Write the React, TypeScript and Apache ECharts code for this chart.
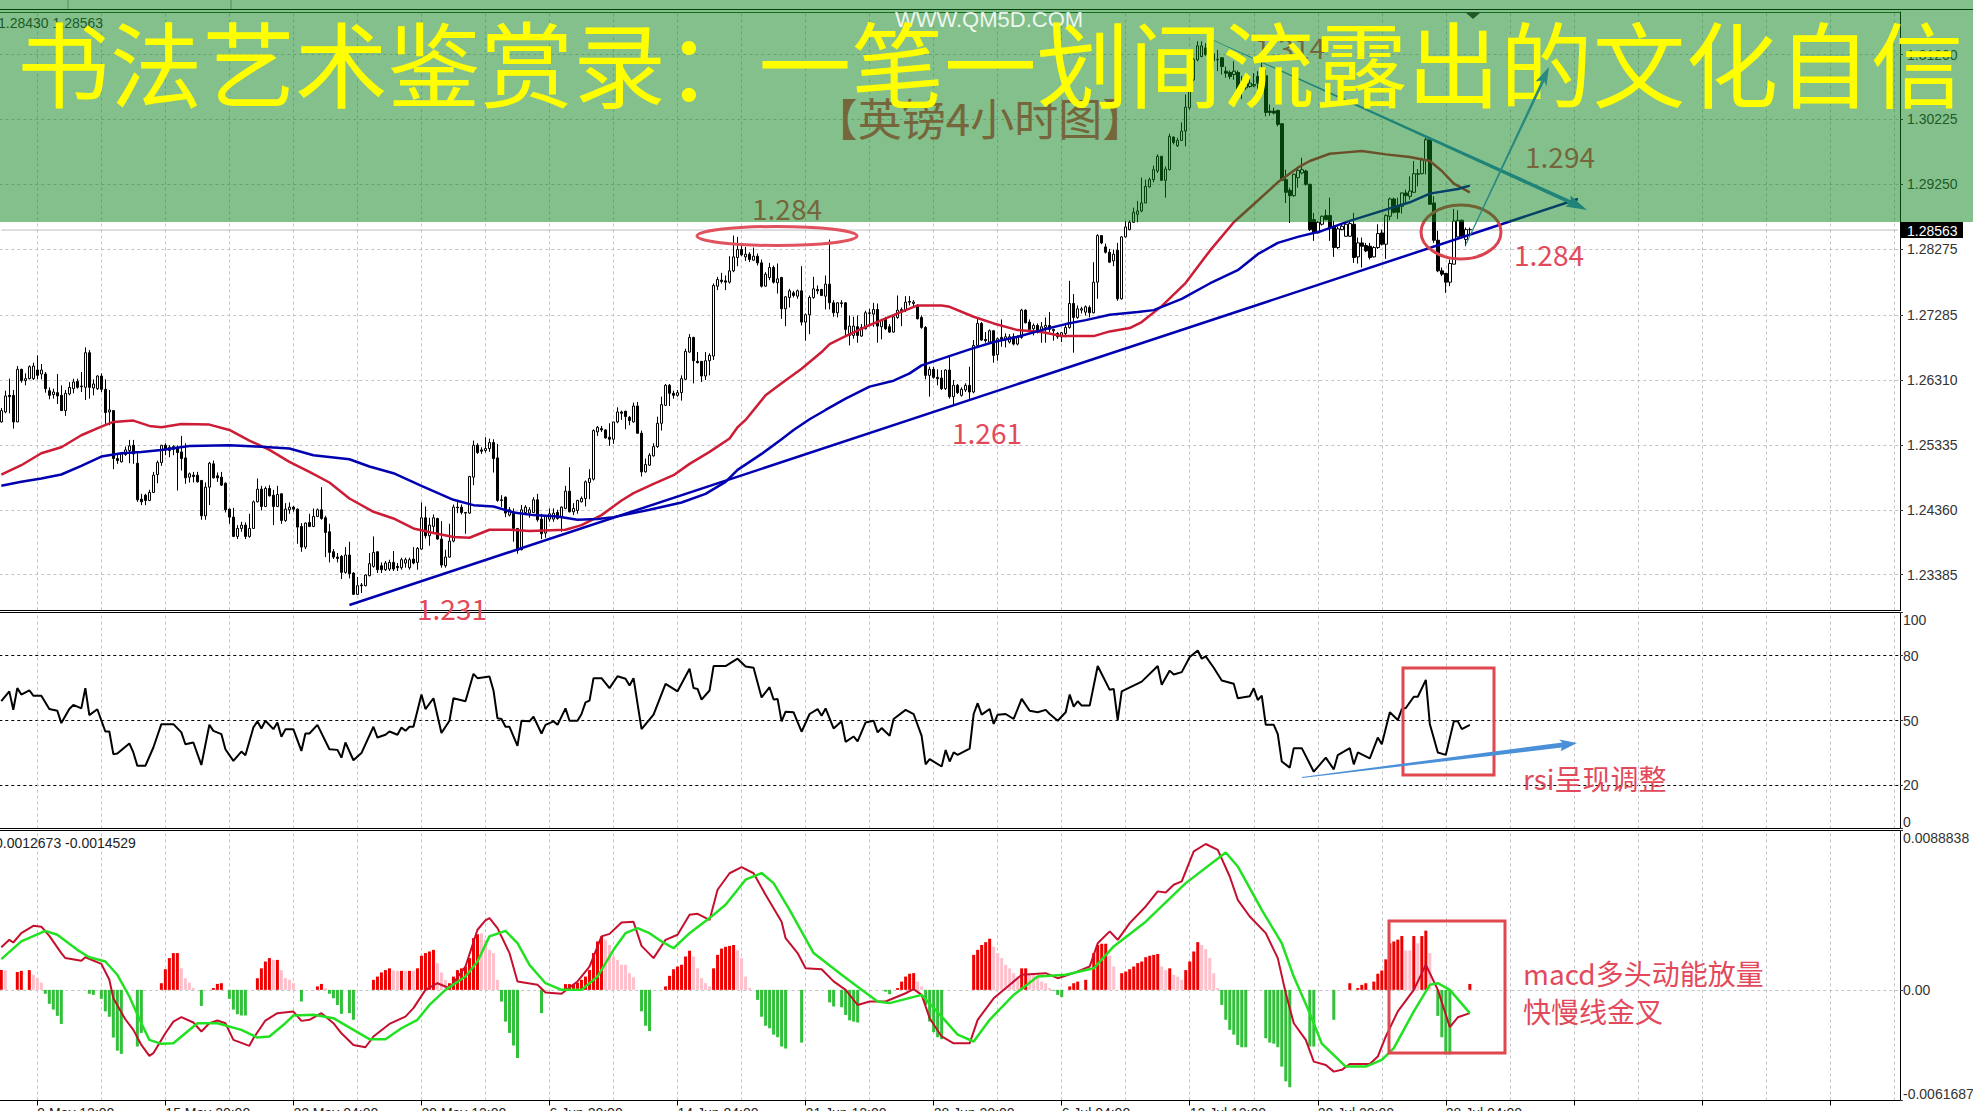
import React, { useEffect, useRef } from "react";
import * as echarts from "echarts";

// Candles in pips (price x 10000): open, close, low, high. One row per 4-hour bar.
const candlesMay = [
[12568,12585,12567,12589],[12583,12607,12581,12615],[12608,12606,12581,12633],[12608,12568,12558,12616],[12568,12647,12568,12652],[12647,12630,12627,12648],[12630,12633,12623,12641],[12633,12651,12632,12653],[12633,12652,12631,12657],[12646,12638,12632,12668],
[12640,12646,12632,12655],[12640,12618,12612,12643],[12615,12608,12602,12620],[12609,12613,12603,12618],[12612,12607,12595,12640],[12608,12585,12585,12623],[12585,12611,12577,12616],[12610,12620,12608,12628],[12618,12628,12611,12633],[12629,12620,12618,12633],
[12622,12621,12613,12643],[12620,12672,12601,12680],[12672,12620,12603,12676],[12619,12625,12608,12632],[12618,12637,12616,12638],[12637,12617,12613,12641],[12617,12582,12565,12632],[12583,12586,12563,12616],[12585,12513,12497,12585],[12513,12510,12505,12521],
[12508,12520,12507,12523],[12519,12526,12517,12531],[12525,12532,12506,12541],[12533,12520,12505,12541],[12506,12451,12448,12521],[12452,12448,12443,12460],[12458,12450,12443,12460],[12450,12462,12449,12466],[12462,12488,12462,12493],[12489,12507,12476,12510],
[12507,12533,12502,12533],[12533,12526,12518,12536],[12525,12530,12515,12533],[12527,12531,12518,12533],[12530,12522,12465,12533],[12523,12513,12495,12547],[12514,12484,12475,12536],[12485,12490,12477,12492],[12488,12486,12477,12493],[12488,12478,12477,12493],
[12480,12427,12421,12481],[12427,12470,12421,12477],[12470,12506,12443,12508],[12505,12484,12483,12510],[12487,12484,12478,12492],[12485,12473,12472,12493],[12476,12436,12432,12477],[12437,12425,12415,12438],[12425,12396,12395,12439],[12396,12408,12392,12413],
[12408,12413,12403,12418],[12413,12396,12392,12417],[12396,12408,12394,12430],[12408,12448,12408,12450],[12448,12467,12447,12483],[12467,12441,12435,12472],[12441,12468,12440,12471],[12468,12457,12456,12473],[12458,12441,12413,12466],[12441,12459,12440,12472],
[12460,12420,12415,12461],[12420,12437,12418,12446],[12436,12440,12430,12447],[12440,12437,12433,12442],[12437,12410,12385,12438],[12411,12380,12373,12416],[12380,12416,12377,12417],[12417,12411,12410,12430],[12411,12426,12410,12438],[12426,12436,12425,12438],
[12436,12423,12421,12470],[12424,12402,12365,12427],[12403,12372,12357,12415],[12373,12365,12362,12377],[12365,12363,12357,12371],[12366,12342,12332,12368],[12342,12368,12340,12380],[12368,12340,12333,12388],[12341,12309,12308,12342],[12309,12322,12308,12335],
[12323,12322,12311,12326],[12322,12338,12321,12339],[12337,12355,12336,12371],
];
const candlesJun = [
[12351,12372,12349,12396],[12373,12346,12341,12373],[12352,12346,12341,12357],[12346,12356,12344,12359],[12347,12357,12344,12361],[12357,12347,12344,12374],[12351,12349,12344,12356],[12349,12361,12346,12364],[12356,12361,12349,12364],[12349,12361,12346,12364],
[12362,12356,12354,12380],[12357,12378,12346,12380],[12377,12424,12376,12447],[12424,12397,12393,12441],[12397,12413,12382,12424],[12411,12424,12401,12429],[12423,12392,12391,12424],[12392,12353,12349,12419],[12352,12365,12349,12376],[12365,12389,12364,12415],
[12389,12440,12387,12444],[12440,12439,12431,12450],[12440,12432,12429,12444],[12432,12431,12400,12432],[12431,12486,12430,12487],[12485,12533,12473,12540],[12533,12522,12520,12536],[12526,12524,12520,12530],[12525,12528,12522,12545],[12528,12537,12523,12543],
[12537,12513,12492,12542],[12514,12450,12448,12535],[12451,12450,12440,12458],[12455,12431,12425,12456],[12428,12436,12426,12440],[12433,12408,12388,12438],[12408,12375,12370,12408],[12376,12436,12375,12443],[12432,12440,12428,12443],[12431,12436,12424,12440],
[12432,12451,12431,12455],[12451,12421,12418,12460],[12422,12400,12392,12430],[12401,12427,12394,12428],[12422,12430,12418,12438],[12422,12431,12418,12438],[12432,12423,12421,12436],[12426,12440,12403,12441],[12438,12464,12437,12472],[12464,12433,12432,12500],
[12433,12438,12428,12446],[12435,12450,12430,12451],[12448,12453,12447,12456],[12453,12478,12441,12480],[12477,12483,12452,12497],[12482,12555,12480,12557],[12553,12560,12547,12562],[12558,12556,12553,12562],[12556,12544,12543,12557],[12545,12542,12532,12566],
[12542,12568,12535,12568],[12568,12583,12566,12590],[12583,12581,12571,12585],[12584,12576,12557,12585],[12575,12570,12563,12577],[12568,12592,12567,12597],[12592,12551,12550,12598],[12551,12493,12486,12555],[12493,12504,12492,12513],[12503,12518,12502,12521],
[12517,12531,12516,12536],[12531,12566,12529,12576],[12566,12594,12555,12606],[12593,12623,12592,12625],[12623,12611,12592,12625],[12611,12608,12603,12615],[12608,12612,12606,12616],[12612,12633,12600,12638],[12632,12674,12631,12678],[12673,12695,12672,12700],
[12695,12660,12626,12696],[12659,12657,12656,12673],[12659,12637,12628,12659],[12637,12660,12631,12673],[12660,12668,12638,12671],[12667,12773,12661,12776],[12772,12782,12766,12786],[12781,12779,12776,12792],[12780,12778,12766,12788],[12778,12795,12776,12817],
[12795,12816,12793,12848],[12815,12827,12802,12846],
];
const candlesJunJul = [
[12827,12819,12817,12836],[12816,12820,12810,12831],[12820,12812,12808,12823],[12811,12817,12810,12830],[12817,12807,12803,12821],[12807,12772,12770,12812],[12772,12790,12771,12793],[12785,12800,12781,12807],[12800,12778,12776,12803],[12777,12783,12761,12806],
[12785,12738,12723,12786],[12738,12756,12712,12757],[12755,12765,12740,12768],[12762,12758,12755,12765],[12757,12765,12753,12767],[12765,12718,12713,12802],[12718,12729,12690,12731],[12729,12755,12700,12758],[12755,12768,12753,12786],[12767,12765,12760,12773],
[12767,12758,12757,12768],[12757,12775,12737,12788],[12775,12747,12737,12842],[12747,12732,12726,12751],[12732,12747,12725,12748],[12747,12746,12740,12751],[12747,12707,12698,12748],[12698,12712,12683,12728],[12698,12712,12693,12726],[12711,12698,12687,12728],
[12697,12710,12696,12715],[12708,12732,12707,12735],[12731,12732,12712,12738],[12730,12737,12711,12747],[12737,12712,12687,12746],[12711,12721,12692,12723],[12722,12708,12706,12726],[12711,12703,12702,12715],[12703,12726,12702,12728],[12725,12736,12723,12758],
[12735,12737,12712,12740],[12736,12748,12733,12757],[12749,12748,12743,12757],[12746,12748,12740,12751],[12743,12723,12722,12745],[12725,12710,12708,12728],[12710,12638,12632,12712],[12638,12647,12606,12651],[12647,12635,12633,12651],[12635,12633,12623,12647],
[12634,12618,12616,12646],[12618,12646,12616,12647],[12646,12606,12603,12666],[12606,12623,12592,12631],[12623,12612,12610,12625],[12608,12617,12606,12620],[12616,12623,12613,12626],[12623,12613,12601,12651],[12613,12683,12611,12691],[12683,12716,12682,12723],
[12716,12691,12690,12718],[12692,12690,12687,12703],[12688,12705,12687,12707],[12705,12668,12657,12706],[12669,12693,12660,12695],[12695,12692,12681,12722],[12692,12696,12680,12701],[12688,12696,12686,12700],[12696,12685,12683,12701],[12685,12696,12683,12698],
[12695,12736,12693,12738],[12736,12717,12716,12737],[12718,12707,12706,12722],[12708,12713,12698,12716],[12713,12703,12701,12716],[12705,12711,12687,12718],[12710,12713,12687,12725],[12713,12707,12703,12733],[12705,12707,12690,12708],[12701,12696,12693,12703],
[12696,12702,12688,12703],[12701,12710,12695,12716],[12710,12746,12708,12780],[12746,12725,12672,12760],[12725,12738,12723,12743],[12736,12738,12731,12741],[12733,12741,12728,12743],[12740,12732,12725,12743],[12732,12778,12731,12808],[12778,12848,12753,12850],
[12848,12837,12835,12848],[12831,12823,12821,12836],[12823,12808,12807,12828],
];
const candlesJul = [
[12810,12820,12802,12827],[12826,12753,12750,12837],[12753,12846,12752,12847],[12846,12861,12845,12870],[12857,12868,12856,12871],[12868,12883,12867,12890],[12880,12885,12868,12900],[12885,12897,12883,12935],[12897,12922,12897,12932],[12921,12932,12920,12935],
[12932,12947,12928,12953],[12945,12967,12942,12970],[12967,12931,12930,12968],[12931,12948,12905,12952],[12947,12997,12946,13001],[12996,12988,12985,12997],[12983,12991,12981,12995],[12991,13005,12990,13018],[13005,13041,12982,13060],[13040,13082,13037,13083],
[13082,13113,13080,13115],[13112,13133,13110,13140],[13117,13133,13116,13140],[13130,13120,13118,13137],[13120,13117,13112,13122],[13121,13111,13097,13143],[13112,13113,13095,13127],[13115,13102,13090,13116],[13095,13092,13085,13102],[13093,13087,13083,13096],
[13090,13095,13082,13110],[13093,13068,13052,13096],[13067,13075,13053,13088],[13070,13076,13067,13087],[13072,13077,13070,13085],[13073,13075,13071,13092],[13087,13077,13067,13095],[13078,13088,13077,13110],[13088,13033,13027,13097],[13035,13033,13028,13045],
[13035,13032,13030,13040],[13036,13015,13012,13037],[13016,12931,12930,13017],[12932,12913,12897,12947],[12916,12908,12867,12920],[12908,12940,12906,12941],[12935,12946,12920,12950],[12942,12947,12940,12965],[12945,12925,12923,12947],[12925,12857,12855,12926],
[12872,12852,12840,12882],[12852,12868,12851,12870],[12865,12877,12863,12878],[12878,12872,12871,12887],[12878,12860,12840,12905],[12861,12830,12816,12870],[12830,12858,12828,12862],[12857,12862,12856,12867],[12847,12865,12846,12870],[12847,12866,12846,12870],
[12865,12815,12807,12882],[12816,12837,12806,12845],[12837,12832,12800,12845],[12833,12825,12823,12837],[12832,12815,12812,12837],[12816,12830,12815,12832],[12830,12851,12828,12865],[12852,12835,12833,12857],[12835,12878,12813,12880],[12877,12903,12871,12905],
[12903,12883,12881,12905],[12892,12883,12873,12905],[12892,12912,12881,12913],[12912,12908,12897,12917],[12907,12915,12902,12937],[12913,12941,12912,12960],[12940,12941,12922,12948],[12941,12962,12940,12965],[12961,12992,12940,12995],[12992,12895,12895,12992],
[12897,12841,12837,12907],[12841,12795,12793,12855],[12795,12790,12787,12800],[12791,12778,12762,12792],[12778,12806,12772,12812],[12805,12870,12805,12888],[12846,12871,12845,12886],[12871,12847,12846,12872],[12842,12857,12832,12860],[12857,12857,12847,12860],
];

// Moving averages in pips, [bar, value]
const redMA = [[0,12489],[5,12503],[10,12521],[15,12530],[20,12548],[25,12561],[28,12568],[33,12570],[37,12562],[40,12560],[45,12565],[52,12564],[57,12556],[62,12540],[67,12526],[72,12508],[77,12493],[82,12477],[87,12453],[93,12433],[98,12423],[103,12408],[108,12401],[113,12395],[117,12394],[122,12406],[127,12406],[132,12404],[141,12406],[145,12413],[150,12428],[155,12450],[158,12461],[163,12475],[168,12488],[172,12505],[177,12523],[182,12543],[184,12560],[186,12571],[191,12608],[195,12626],[200,12648],[205,12673],[207,12685],[211,12697],[216,12711],[220,12721],[224,12731],[229,12743],[235,12743],[237,12741],[243,12726],[248,12716],[254,12706],[260,12703],[265,12697],[273,12697],[277,12704],[282,12709],[285,12718],[290,12742],[296,12777],[302,12825],[308,12868],[313,12895],[319,12928],[324,12950],[327,12960],[332,12971],[336,12973],[340,12975],[346,12970],[352,12966],[357,12960],[360,12945],[363,12926],[367,12913]];
const blueMA = [[0,12472],[5,12478],[10,12483],[15,12489],[20,12502],[25,12516],[30,12521],[35,12523],[40,12526],[47,12532],[57,12533],[64,12531],[72,12528],[78,12518],[87,12512],[92,12501],[98,12491],[105,12472],[113,12451],[118,12443],[123,12441],[128,12432],[133,12428],[139,12426],[144,12421],[149,12422],[153,12425],[162,12436],[170,12447],[176,12460],[181,12478],[184,12496],[190,12520],[195,12542],[198,12556],[202,12572],[206,12586],[211,12603],[217,12621],[223,12630],[227,12641],[230,12653],[236,12665],[242,12677],[248,12688],[254,12696],[260,12706],[266,12715],[271,12721],[277,12729],[284,12733],[288,12736],[295,12753],[302,12776],[309,12796],[314,12820],[319,12837],[324,12846],[330,12855],[337,12870],[346,12887],[352,12898],[357,12911],[364,12918],[367,12923]];
const supportLine = [[87,12293],[394,12903]];

// RSI, [bar, value]
const rsiValues = [[0,59],[2,63.5],[3,55],[4,65],[5,62],[7,64],[8,61.5],[10,61.5],[12,55.3],[14,54.5],[15,48.8],[17,55.3],[18,57.2],[20,55.6],[21,65],[22,52.5],[24,55.2],[26,44.9],[27,44.9],[28,34.4],[29,34.7],[32,39.4],[33,35.2],[34,29],[36,29],[38,37.5],[40,48.3],[43,48.3],[45,44.5],[46,39],[48,39.8],[50,29.4],[52,48],[53,45.2],[55,43.7],[56,36.7],[58,31.3],[60,35.6],[61,33.9],[63,46.8],[64,49.6],[65,46.3],[66,49.9],[68,46],[69,49.1],[70,42.5],[71,45.9],[73,45.9],[75,35.9],[76,44],[77,44],[79,48],[82,36.7],[84,36.4],[85,32.8],[86,39.8],[88,31.6],[90,34.9],[93,47.1],[94,42.1],[96,43.4],[97,44.9],[99,43.4],[100,46.8],[101,45.2],[102,47.1],[103,47.1],[105,62],[106,55.3],[108,60.3],[110,44.2],[112,49.9],[113,60.3],[116,58.9],[118,71.6],[119,69.6],[122,70.4],[123,63.9],[124,51],[125,50.7],[126,47.1],[127,47.1],[129,38.3],[130,49.9],[132,49.6],[133,51.8],[135,44],[136,48],[138,49.6],[139,48],[141,55.6],[142,49.9],[144,49.9],[145,53],[146,58.4],[147,59.2],[148,69.6],[150,69.6],[152,65],[154,70.5],[156,69.3],[157,66.2],[158,69.6],[160,46],[163,52.7],[166,67],[169,63.5],[172,74],[173,65],[174,64.6],[175,59.7],[177,63.9],[178,75.2],[181,75.2],[184,78.6],[186,75],[188,74.4],[190,60.7],[192,65.4],[193,59.7],[194,60],[195,49.6],[196,54.1],[198,53.8],[200,44.8],[202,53],[204,55.3],[205,52.2],[206,55.6],[208,46.3],[210,49.6],[211,40.1],[213,42.6],[214,40.3],[216,49.1],[218,49.9],[219,44.5],[220,46.5],[222,42.9],[223,50.7],[226,54.9],[228,53],[230,42.9],[231,29.7],[232,32.1],[235,28.7],[236,36.3],[237,31],[238,35.2],[239,34.1],[242,37],[243,53],[244,58],[245,52.7],[247,55.3],[248,48.4],[249,52.7],[251,53],[253,50.7],[255,60],[257,54.5],[259,53.8],[261,54.9],[262,53],[264,49.9],[266,53.8],[267,62],[268,56.4],[269,58.9],[270,56.9],[272,56.9],[274,75.2],[277,64.2],[278,64.6],[279,50.2],[280,63.5],[285,68],[289,75.2],[290,66.5],[292,73.1],[293,71.3],[295,72.4],[297,79.4],[299,82.4],[300,78.6],[301,79.7],[303,74.4],[305,68.5],[308,67],[309,60.3],[312,61.2],[313,64.9],[314,59.5],[315,61.5],[316,48],[318,48],[319,43.7],[320,31],[322,28.2],[323,37.2],[325,37.2],[328,26.3],[331,32.8],[333,27.4],[334,34],[337,37.2],[338,29.7],[339,35.2],[342,32.5],[344,42.1],[345,39],[347,53.8],[349,50.2],[350,55.3],[351,55.8],[353,61],[354,61],[356,68.8],[357,48.4],[359,35.2],[361,34.1],[363,49.6],[364,49.6],[365,46],[367,48]];

// MACD histogram and lines, in units of 0.0001, [bar, value]
const histRising = [[0,11],[4,10],[5,10.6],[7,11],[40,3.7],[41,11.5],[42,17.7],[43,20.5],[44,20.5],[53,1],[54,3.3],[55,3.7],[64,6.5],[65,12],[66,15.8],[67,17.7],[69,16.7],[79,1.9],[80,3.3],[93,5.6],[94,7.4],[95,9.7],[96,11],[97,12],[100,10.6],[102,10.6],[104,12],[105,19],[106,20.5],[107,21.4],[108,22.3],[112,3.7],[113,7.4],[114,11],[115,12],[116,13],[117,17.7],[118,28.8],[119,31],[141,3.2],[142,3.2],[143,3.3],[144,4],[145,5.6],[146,7.4],[147,11],[148,20.5],[149,27],[150,29.8],[166,1.9],[167,7.8],[168,11.5],[169,13],[170,14],[171,18.6],[172,21.8],[178,12],[179,19.5],[180,23],[181,24],[182,24.5],[183,25],[224,1],[225,4.6],[226,7.4],[227,9],[228,9.3],[243,19.5],[244,22.3],[245,25],[246,26.6],[247,28.5],[255,12],[256,12],[267,1.9],[268,3.7],[269,4.6],[271,5.6],[273,20.5],[274,25],[275,25.7],[276,25.7],[280,9.3],[281,10.2],[282,11.5],[283,13],[284,14.9],[285,15.8],[286,18.2],[287,19],[288,19.5],[289,20],[292,12],[296,11],[297,15.8],[298,21.4],[299,26.6],[337,3.7],[339,1],[340,2.8],[341,3.7],[343,4.6],[344,9],[345,10.8],[346,17],[347,26],[348,27],[349,28],[350,30],[353,30],[355,30],[356,33],[367,3.3]];
const histFalling = [[1,10.8],[8,8.4],[9,6.5],[10,4],[45,12],[46,6.5],[47,4],[48,1],[68,16.7],[70,11],[71,6.5],[72,5.6],[73,3.7],[81,0.9],[98,10.8],[99,10.6],[101,10.6],[103,10.6],[109,14.9],[110,9.7],[111,5.6],[120,31.6],[121,27.9],[122,22.3],[123,20.5],[124,5.6],[151,27.9],[152,25],[153,18.6],[154,16.7],[155,14],[156,14],[157,9.3],[158,7],[173,18.6],[174,12],[175,6.5],[176,3.7],[177,1.9],[184,22],[185,17.7],[186,7.4],[187,1],[229,4.6],[230,1.9],[248,24],[249,20.5],[250,17.7],[251,14],[252,12],[253,9.3],[254,7.4],[257,8.4],[258,9.3],[259,7.4],[260,4.6],[261,3.7],[262,1],[277,19],[278,13],[290,13],[291,11],[293,8.4],[294,7.4],[295,5.6],[300,25],[301,22.7],[302,17.7],[303,9.3],[304,1],[351,22],[352,22],[354,26],[357,20.5]];
const histNegative = [[11,-2.2],[12,-7.8],[13,-11],[14,-14.5],[15,-19],[22,-2.2],[23,-2.8],[25,-5],[26,-12],[27,-15],[28,-26.6],[29,-33.9],[30,-35.7],[34,-31.6],[35,-24],[50,-9],[57,-5],[58,-11],[59,-13.6],[60,-14.3],[61,-14.3],[75,-6.5],[82,-2.2],[83,-4.7],[84,-8.4],[85,-13.4],[87,-13],[88,-16.7],[125,-6.5],[126,-17.7],[127,-24],[128,-31],[129,-38],[135,-13],[160,-12],[161,-20],[162,-23],[189,-5.6],[190,-15],[191,-20],[192,-21.4],[193,-25],[194,-26.4],[195,-31.6],[196,-32.7],[200,-29.4],[207,-7],[208,-9.3],[210,-9.7],[211,-14],[212,-17],[213,-17.7],[214,-18.2],[221,-1],[222,-2.4],[231,-8.4],[232,-17.7],[233,-23.6],[234,-26.4],[235,-27.5],[263,-0.4],[264,-2.8],[265,-4],[305,-8.4],[306,-16.7],[307,-22.3],[308,-25],[309,-30.7],[310,-32],[311,-32],[316,-27],[317,-29.4],[318,-30],[319,-32],[320,-42.8],[321,-51],[322,-54.3],[327,-31.6],[328,-31.6],[333,-16.7],[359,-14.5],[360,-26.4],[361,-36],[362,-36]];
const macdLine = [[0,23.8],[2,27.9],[3,26.4],[5,31.6],[8,35.7],[10,35.2],[12,30.1],[15,20.5],[16,17.7],[20,16.2],[21,18.2],[25,14.5],[27,5.6],[28,-4.7],[31,-16.4],[33,-22.3],[35,-30.7],[37,-36.8],[38,-35.3],[41,-24.2],[43,-17.7],[45,-15.2],[48,-18.2],[50,-23.2],[52,-18.6],[54,-17.1],[56,-18.6],[58,-27.9],[62,-31.2],[63,-27],[66,-17.1],[69,-13],[73,-12.1],[75,-17.3],[77,-16.7],[80,-13],[83,-18.6],[85,-24.2],[88,-30.7],[91,-32],[93,-26],[97,-19],[101,-14.9],[103,-10.2],[106,0],[109,3.7],[112,0.9],[116,13],[119,33.5],[121,38.7],[122,40],[124,34.4],[127,20.5],[129,4.7],[134,2.8],[136,-1.5],[140,-2.2],[144,4.7],[147,13],[150,29.8],[152,31.2],[155,37.6],[158,37.9],[160,24.5],[163,17.7],[166,27.9],[169,30.7],[172,41.9],[174,42.4],[177,39],[179,55.8],[182,65],[185,68.4],[188,65],[191,53],[195,38],[196,28.8],[199,20.5],[201,12],[205,11.5],[208,4.7],[211,0],[214,-8.4],[217,-6.5],[221,-6.5],[226,-1.9],[228,0.4],[230,-2.8],[232,-15.8],[235,-26],[238,-29.8],[242,-29.8],[244,-16.7],[248,-4.7],[251,0.9],[255,8.4],[261,9.3],[264,6.5],[268,9.3],[272,13],[274,26],[277,32.6],[279,27.9],[282,37.2],[286,46.5],[289,54.9],[291,54.3],[293,58.6],[295,60.5],[298,77.2],[301,81.3],[304,78],[307,63.2],[309,50.2],[312,40.9],[316,31.6],[319,17.7],[321,-1.9],[323,-18.6],[326,-27.9],[328,-40],[331,-41.9],[333,-45.6],[335,-44.6],[337,-41.3],[342,-41.3],[344,-37.2],[346,-26],[349,-12],[353,0],[356,14],[359,0],[362,-20.8],[364,-15.3],[367,-13]];
const signalLine = [[0,17.1],[5,27],[11,32.9],[14,30.7],[19,22.3],[22,18.2],[26,15.8],[29,8.4],[32,-3.7],[35,-18.6],[37,-27.9],[40,-30.1],[43,-29.8],[46,-24.2],[49,-18.6],[54,-18.6],[60,-22.3],[64,-26.6],[67,-26],[71,-18.6],[73,-14.3],[78,-13.9],[83,-15.8],[88,-22.3],[92,-27.5],[96,-27.5],[100,-21.4],[104,-16.7],[107,-8.4],[111,0],[116,7.4],[119,15.8],[122,29.8],[126,32.9],[129,26],[132,13.9],[136,3.7],[140,0],[145,0],[149,7.4],[153,22.3],[156,31.6],[159,34.4],[162,31.6],[165,27],[168,23.2],[172,31.6],[177,40],[181,47.4],[186,61.4],[190,65.1],[193,59.5],[197,44.6],[203,20.5],[210,8.4],[215,0],[219,-6.5],[222,-7.4],[230,-2.8],[235,-14.9],[239,-25],[243,-28.8],[247,-16.7],[253,-2.8],[259,7.4],[266,8.4],[273,12],[278,24.2],[286,38],[296,59.5],[306,76.6],[309,68.8],[315,44.6],[320,26],[323,7.4],[327,-13],[330,-30],[336,-42.8],[341,-42.8],[345,-39],[348,-32.5],[353,-12],[357,2.8],[359,3.7],[362,0],[367,-13]];

// Axis texts and ticks
const priceTicks = [1.312, 1.30225, 1.2925, 1.28275, 1.27285, 1.2631, 1.25335, 1.2436, 1.23385];
const rsiTicks = [0, 20, 50, 80, 100];
const macdTicks = [-0.0061687, 0, 0.0088838];
const timeLabels = ["9 May 12:00", "15 May 20:00", "22 May 04:00", "29 May 12:00", "6 Jun 20:00", "14 Jun 04:00", "21 Jun 12:00", "28 Jun 20:00", "6 Jul 04:00", "13 Jul 12:00", "20 Jul 20:00", "28 Jul 04:00"];
const currentPrice = 1.28563;

const SLOTS = 475;
const FIRST_GRID_SLOT = 9;
const GRID_SLOT_STEP = 16;
const LABEL_SLOT_STEP = 32;

const AXIS_FONT = "'Liberation Sans', Arial, sans-serif";
const CJK_FONT = "'Noto Sans CJK SC', 'Noto Sans', sans-serif";

const allCandles = [...candlesMay, ...candlesJun, ...candlesJunJul, ...candlesJul];
const candleData = allCandles.map((r) => r.map((v) => v / 10000));
const tenK = (rows: number[][]) => rows.map(([i, v]) => [i, v / 10000]);

const categories = Array.from({ length: SLOTS }, (_, i) => {
  const k = (i - FIRST_GRID_SLOT) / LABEL_SLOT_STEP;
  return Number.isInteger(k) && timeLabels[k] ? timeLabels[k] : "";
});
const isLabelSlot = (i: number) => (i - FIRST_GRID_SLOT) % LABEL_SLOT_STEP === 0 && i >= FIRST_GRID_SLOT;
const gridSlots: number[] = [];
for (let i = FIRST_GRID_SLOT; i < SLOTS; i += GRID_SLOT_STEP) gridSlots.push(i);

const gridLineSeries = (gridIdx: number) => ({
  type: "line",
  xAxisIndex: gridIdx,
  yAxisIndex: gridIdx,
  data: [],
  z: 0,
  silent: true,
  markLine: {
    z: 0,
    silent: true,
    symbol: "none",
    animation: false,
    label: { show: false },
    lineStyle: { type: [3, 3], color: "#c4c4c4", width: 1 },
    data: gridSlots.map((s) => ({ xAxis: s })),
  },
});

const lineSeries = (gridIdx: number, data: number[][], color: string, width: number, z = 3) => ({
  type: "line",
  xAxisIndex: gridIdx,
  yAxisIndex: gridIdx,
  data,
  symbol: "none",
  showSymbol: false,
  silent: true,
  z,
  lineStyle: { color, width },
});

const histSeries = (data: number[][], color: string) => ({
  type: "bar",
  xAxisIndex: 2,
  yAxisIndex: 2,
  data: tenK(data),
  barWidth: 3,
  barGap: "-100%",
  silent: true,
  z: 2,
  itemStyle: { color },
});

const REDTXT = "#e24a5c";
const annotationText = (text: string, x: number, y: number, fontSize: number, z: number, align = "center", fill = REDTXT, family = CJK_FONT) => ({
  type: "text",
  z,
  silent: true,
  style: { text, x, y, fontSize, fontFamily: family, fill, align, verticalAlign: "middle" },
});

const hline = (y: number, color = "#000", x2 = 1973) => ({
  type: "line",
  z: 40,
  silent: true,
  shape: { x1: 0, y1: y, x2, y2: y },
  style: { stroke: color, lineWidth: 1 },
});

const graphics = [
  hline(12.5, "#1f5f1f", 1900),
  hline(612.5, "#000", 1900),
  hline(830.5, "#000", 1900),
  { type: "line", z: 40, silent: true, shape: { x1: 0, y1: 9.5, x2: 1973, y2: 9.5 }, style: { stroke: "#000", lineWidth: 1 } },
  { type: "line", z: 40, silent: true, shape: { x1: 68, y1: 0, x2: 68, y2: 9 }, style: { stroke: "#999", lineWidth: 1 } },
  { type: "line", z: 40, silent: true, shape: { x1: 231, y1: 0, x2: 231, y2: 9 }, style: { stroke: "#999", lineWidth: 1 } },
  { type: "polygon", z: 41, silent: true, shape: { points: [[1465, 12], [1481, 12], [1473, 19]] }, style: { fill: "#333" } },
  annotationText("1.28430 1.28563", -2, 23, 14, 41, "left", "#333", AXIS_FONT),
  annotationText("0.0012673 -0.0014529", -5, 843, 14, 41, "left", "#222", AXIS_FONT),
  { type: "rect", z: 41, silent: true, shape: { x: 1901, y: 222, width: 62, height: 16 }, style: { fill: "#000" } },
  annotationText(currentPrice.toFixed(5), 1907, 230.5, 14, 41, "left", "#fff", AXIS_FONT),

  // drawn below the green band
  { type: "ellipse", z: 42, silent: true, shape: { cx: 777, cy: 236, rx: 80, ry: 9.5 }, style: { fill: "none", stroke: "#e0535e", lineWidth: 3 } },
  { type: "ellipse", z: 42, silent: true, shape: { cx: 1461, cy: 232, rx: 40, ry: 27 }, style: { fill: "none", stroke: "#d9434f", lineWidth: 3 } },
  annotationText("1.284", 787, 208, 28, 42),
  annotationText("1.294", 1560, 156, 28, 42),
  annotationText("1.314", 1290, 47, 28, 42),
  annotationText("【英镑4小时图】", 980, 117, 44, 42),

  // green band
  { type: "rect", z: 50, silent: true, shape: { x: 0, y: 0, width: 1973, height: 222 }, style: { fill: "rgb(10,130,25)", opacity: 0.5 } },

  // above the band
  annotationText("1.284", 1549, 254, 28, 60),
  annotationText("1.261", 987, 432, 28, 60),
  annotationText("1.231", 452, 608, 28, 60),
  annotationText("rsi呈现调整", 1523, 778, 28, 60, "left"),
  annotationText("macd多头动能放量", 1523, 973, 28, 60, "left"),
  annotationText("快慢线金叉", 1523, 1011, 28, 60, "left"),
  { type: "rect", z: 60, silent: true, shape: { x: 1403, y: 668, width: 91, height: 107 }, style: { fill: "none", stroke: "#e0474f", lineWidth: 3 } },
  { type: "rect", z: 60, silent: true, shape: { x: 1389, y: 921, width: 116, height: 132 }, style: { fill: "none", stroke: "#e0474f", lineWidth: 3 } },
  { type: "polygon", z: 61, silent: true, shape: { points: [[1212, 40], [1569.2, 203.8], [1565.5, 206.5], [1587, 210], [1570.5, 195.5], [1570.8, 200.2], [1212.4, 39.5]] }, style: { fill: "#1f8378" } },
  { type: "polygon", z: 61, silent: true, shape: { points: [[1302, 778], [1561.7, 747.5], [1560.8, 751.2], [1577, 743], [1559.2, 739.4], [1562.3, 742.5], [1302, 777]] }, style: { fill: "#4a90d9" } },
  annotationText("WWW.QM5D.COM", 989, 19, 22, 62, "center", "rgba(255,255,255,0.88)", AXIS_FONT),
  annotationText("书法艺术鉴赏录：一笔一划间流露出的文化自信", 17, 60, 92.7, 65, "left", "#ffff00"),
  { type: "polygon", z: 66, silent: true, shape: { points: [[1465, 245], [1541.6, 80.4], [1535.6, 81.4], [1549, 67], [1546.4, 86.6], [1544.4, 81.3], [1465.9, 245.4]] }, style: { fill: "#2a8a80" } },
];

const axisLabelStyle = { color: "#333", fontSize: 14, fontFamily: AXIS_FONT };
const greyDash = { type: [3, 3], color: "#c4c4c4", width: 1 };
const blackDash = { type: [3, 3], color: "#000", width: 1 };

const option = {
  animation: false,
  backgroundColor: "#fff",
  graphic: { elements: graphics },
  grid: [
    { left: -0.7, width: 1900.7, top: 12, height: 598.5, outerBoundsMode: "none" },
    { left: -0.7, width: 1900.7, top: 612.5, height: 216, outerBoundsMode: "none" },
    { left: -0.7, width: 1900.7, top: 830.5, height: 270, outerBoundsMode: "none" },
  ],
  xAxis: [0, 1, 2].map((g) => ({
    type: "category",
    gridIndex: g,
    data: categories,
    boundaryGap: true,
    axisLine: { show: true, onZero: false, lineStyle: { color: "#000", width: 1 } },
    splitLine: { show: false },
    axisTick:
      g === 2
        ? { show: true, alignWithLabel: true, length: 5, lineStyle: { color: "#000" }, interval: (i: number) => isLabelSlot(i) }
        : { show: false },
    axisLabel:
      g === 2
        ? { show: true, interval: (i: number) => isLabelSlot(i), align: "left", margin: 5, ...axisLabelStyle, color: "#222", hideOverlap: false }
        : { show: false },
  })),
  yAxis: [
    {
      type: "value",
      gridIndex: 0,
      position: "right",
      min: 1.22847,
      max: 1.31839,
      splitLine: { show: true, lineStyle: greyDash },
      axisLine: { show: true, lineStyle: { color: "#000" } },
      axisTick: { show: true, length: 3, customValues: priceTicks, lineStyle: { color: "#333" } },
      axisLabel: { ...axisLabelStyle, margin: 7, customValues: priceTicks, formatter: (v: number) => v.toFixed(5) },
    },
    {
      type: "value",
      gridIndex: 1,
      position: "right",
      min: 0,
      max: 100,
      splitLine: { show: true, lineStyle: blackDash },
      axisLine: { show: true, lineStyle: { color: "#000" } },
      axisTick: { show: true, length: 3, customValues: rsiTicks, lineStyle: { color: "#333" } },
      axisLabel: { ...axisLabelStyle, margin: 3, customValues: rsiTicks, verticalAlignMaxLabel: "top", verticalAlignMinLabel: "bottom" },
    },
    {
      type: "value",
      gridIndex: 2,
      position: "right",
      min: -0.0061687,
      max: 0.0088838,
      splitLine: { show: true, lineStyle: greyDash },
      axisLine: { show: true, lineStyle: { color: "#000" } },
      axisTick: { show: true, length: 3, customValues: macdTicks, lineStyle: { color: "#333" } },
      axisLabel: {
        ...axisLabelStyle,
        margin: 3,
        customValues: macdTicks,
        verticalAlignMaxLabel: "top",
        verticalAlignMinLabel: "bottom",
        formatter: (v: number) => (v === 0 ? "0.00" : v.toFixed(7)),
      },
    },
  ],
  series: [
    gridLineSeries(0),
    gridLineSeries(1),
    gridLineSeries(2),
    lineSeries(0, [[0, currentPrice], [SLOTS - 1, currentPrice]], "#bdbdbd", 1, 1),
    {
      type: "candlestick",
      xAxisIndex: 0,
      yAxisIndex: 0,
      data: candleData,
      barWidth: 3,
      silent: true,
      z: 2,
      itemStyle: { color: "#fff", color0: "#000", borderColor: "#000", borderColor0: "#000", borderWidth: 1 },
    },
    lineSeries(0, tenK(redMA), "#cc1c36", 2.5),
    lineSeries(0, tenK(blueMA), "#0000b0", 2.5),
    lineSeries(0, tenK(supportLine), "#0000b0", 2.5),
    lineSeries(1, rsiValues, "#000", 2),
    histSeries(histRising, "#ee0000"),
    histSeries(histFalling, "#ffc0cb"),
    histSeries(histNegative, "#32c03a"),
    lineSeries(2, tenK(macdLine), "#c4102e", 2, 3),
    lineSeries(2, tenK(signalLine), "#22e022", 2.5, 4),
  ],
};

export default function App() {
  const ref = useRef<HTMLDivElement>(null);
  useEffect(() => {
    document.body.style.margin = "0";
    const chart = echarts.init(ref.current!, undefined, { renderer: "svg" });
    chart.setOption(option as any);
    return () => chart.dispose();
  }, []);
  return <div ref={ref} style={{ position: "absolute", left: 0, top: 0, width: 1973, height: 1111, overflow: "hidden" }} />;
}
